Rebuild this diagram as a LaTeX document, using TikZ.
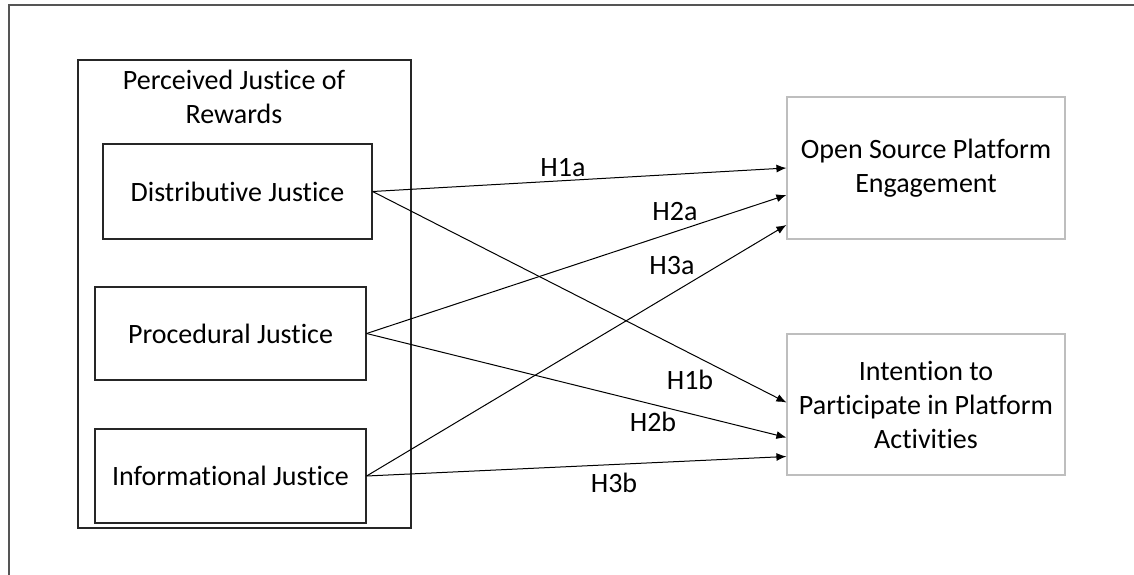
\documentclass[tikz,border=0pt]{standalone}
\usepackage{fontspec}
\setmainfont{Carlito}[RawFeature={-liga}]
\usetikzlibrary{arrows.meta}
\definecolor{boxgray}{RGB}{190,190,190}
\definecolor{framegray}{RGB}{85,85,85}

\begin{document}
\begin{tikzpicture}[x=1pt,y=-1pt,
  every node/.style={font=\fontsize{28}{34}\selectfont, align=center},
  jbox/.style={draw=black!85, line width=1.2pt, inner sep=0pt},
  obox/.style={draw=boxgray, line width=1.2pt, inner sep=0pt},
  hyp/.style={-{Latex[length=10pt,width=8pt]}, line width=1pt}]
\useasboundingbox (0,0) rectangle (1134,575);

% outer frame
\draw [framegray, line width=1.8pt] (9,575) -- (9,5) -- (1134,5);

% group of justice dimensions
\draw [black!85, line width=1.2pt] (78,60) rectangle (411,528);
\node (title) at (234,97) {Perceived Justice of\\Rewards};

\node [jbox, minimum width=269, minimum height=95] (dist) at (237.5,191.5) {Distributive Justice};
\node [jbox, minimum width=271, minimum height=93] (proc) at (230.5,333.5) {Procedural Justice};
\node [jbox, minimum width=271, minimum height=94] (info) at (230.5,476) {Informational Justice};

% outcomes
\node [obox, minimum width=278, minimum height=142] (ose) at (926,168) {Open Source Platform\\Engagement};
\node [obox, minimum width=278, minimum height=141] (itp) at (926,404.5) {Intention to\\Participate in Platform\\Activities};

% hypotheses
\draw [hyp] (dist.east) -- (ose.west);
\draw [hyp] (proc.east) -- ([yshift=-27pt]ose.west);
\draw [hyp] (info.east) -- ([yshift=-57pt]ose.west);
\draw [hyp] (dist.east) -- ([yshift=2pt]itp.west);
\draw [hyp] (proc.east) -- ([yshift=-33pt]itp.west);
\draw [hyp] (info.east) -- ([yshift=-52pt]itp.west);

\node (h1a) at (563,168) {H1a};
\node (h2a) at (675,212) {H2a};
\node (h3a) at (672,266) {H3a};
\node (h1b) at (690,380) {H1b};
\node (h2b) at (653,422) {H2b};
\node (h3b) at (614,483) {H3b};

\end{tikzpicture}
\end{document}
